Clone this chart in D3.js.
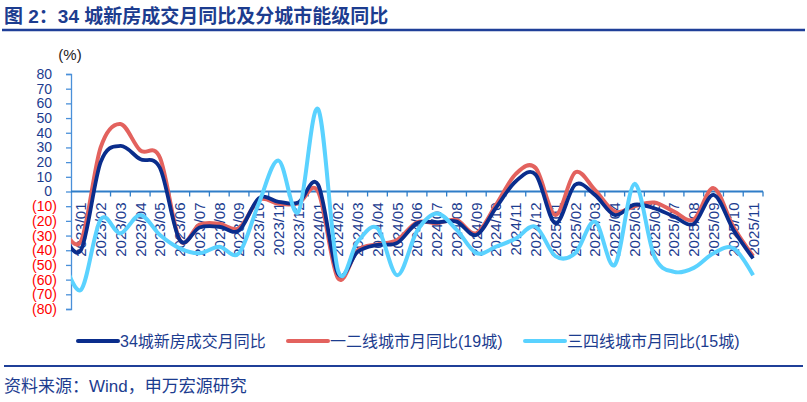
<!DOCTYPE html>
<html>
<head>
<meta charset="utf-8">
<script src="https://cdn.jsdelivr.net/npm/d3@7"></script>
<style>
  body { margin: 0; background: #fff; }
  svg text { font-family: "Liberation Sans", Arial, "Noto Sans CJK SC", sans-serif; }
  .cjk { font-family: "Liberation Sans", "Noto Sans CJK SC", sans-serif; }
</style>
</head>
<body>
<div id="chart"></div>
<script>
// months: the first (2022/12) sits left of the axis and is only seen as the stub entering the plot
var months = ["2022/12",
  "2023/01", "2023/02", "2023/03", "2023/04", "2023/05", "2023/06", "2023/07", "2023/08", "2023/09", "2023/10", "2023/11", "2023/12",
  "2024/01", "2024/02", "2024/03", "2024/04", "2024/05", "2024/06", "2024/07", "2024/08", "2024/09", "2024/10", "2024/11", "2024/12",
  "2025/01", "2025/02", "2025/03", "2025/04", "2025/05", "2025/06", "2025/07", "2025/08", "2025/09", "2025/10", "2025/11"];

var city34 = [-26,
  -40, 20, 31, 22, 16, -33, -24.5, -24, -26.5, -4.6, -7, -7.5,
  4.6, -56, -41, -36.4, -35, -21.6, -21, -20.5, -29.6, -11, 7, 11.5,
  -21.6, 4.6, -2.3, -16, -9, -11.4, -17, -22, -2.3, -26, -45.6];

var tier12 = [-22,
  -34, 30, 46, 28, 23, -33, -22.5, -22, -25, -5.7, -8.4, -8,
  0, -59, -40, -36, -33, -21, -21.6, -19.4, -28.5, -9, 12, 16,
  -16, 13, 1, -13.7, -10, -7.5, -13.7, -19, 2.3, -24, -44];

var tier34 = [-42,
  -67, -19, -28.5, -16, -29.6, -38.7, -42, -37.6, -42, -8, 21, -14,
  56, -53.5, -34, -25, -57, -27, -15, -26, -42, -37.6, -32, -24,
  -44, -42, -20.5, -50, 5.2, -44, -54.7, -52, -42, -38.7, -57];

var seriesNames = ["34城新房成交月同比", "一二线城市月同比(19城)", "三四线城市月同比(15城)"];
var yTicks = d3.range(-80, 81, 10);

var width = 807, height = 402;
var plot = { left: 71, right: 763, top: 74, bottom: 309 };
var catW = (plot.right - plot.left) / (months.length - 1);

var svg = d3.select("#chart").append("svg")
  .attr("width", width)
  .attr("height", height);

svg.append("rect").attr("width", width).attr("height", height).attr("fill", "#fff");

// title + rule
svg.append("text")
  .attr("class", "cjk")
  .attr("x", 4)
  .attr("y", 23)
  .attr("fill", "#1c3c8f")
  .style("font-size", "19px")
  .style("font-weight", "bold")
  .text("图 2：34 城新房成交月同比及分城市能级同比");
svg.append("line")
  .attr("x1", 2).attr("x2", 805)
  .attr("y1", 30).attr("y2", 30)
  .attr("stroke", "#1f3f98").attr("stroke-width", 2.5);

var x = d3.scaleBand()
  .domain(months)
  .range([plot.left - catW, plot.right])
  .paddingInner(0).paddingOuter(0);

var y = d3.scaleLinear()
  .domain([-80, 80])
  .range([plot.bottom, plot.top]);

var cx = function (m) { return x(m) + x.bandwidth() / 2; };

// y axis
var yAxis = svg.append("g")
  .attr("transform", "translate(" + plot.left + ",0)")
  .call(d3.axisLeft(y).tickValues(yTicks).tickSize(5).tickPadding(9)
    .tickFormat(function (d) { return d < 0 ? "(" + (-d) + ")" : d; }));
yAxis.select(".domain").attr("stroke", "#4a90d9").attr("stroke-width", 1.3);
yAxis.selectAll(".tick line").attr("stroke", "#4a90d9").attr("stroke-width", 1.3);
yAxis.selectAll(".tick text")
  .style("font-size", "14px")
  .attr("fill", function (d) { return d < 0 ? "#ff0000" : "#1c3c8f"; })
  .attr("dx", function (d) { return d < 0 ? 0 : -5; });

svg.append("text")
  .attr("x", 70)
  .attr("y", 60)
  .attr("text-anchor", "middle")
  .attr("fill", "#222")
  .style("font-size", "15px")
  .text("(%)");

// x axis on zero line
var shown = months.slice(1);
var xAxis = svg.append("g")
  .attr("transform", "translate(0," + y(0) + ")")
  .call(d3.axisBottom(x).tickValues(shown).tickSize(0).tickSizeOuter(0));
xAxis.select(".domain").remove();
xAxis.append("line")
  .attr("x1", plot.left).attr("x2", plot.right)
  .attr("stroke", "#2f7dc8").attr("stroke-width", 2);
xAxis.selectAll(".bound")
  .data(shown.map(function (m) { return x(m) + x.bandwidth(); }))
  .enter().append("line")
  .attr("class", "bound")
  .attr("x1", function (d) { return d; }).attr("x2", function (d) { return d; })
  .attr("y1", 0).attr("y2", 5)
  .attr("stroke", "#2f7dc8").attr("stroke-width", 1.3);
xAxis.selectAll(".tick text")
  .attr("transform", "rotate(-90)")
  .attr("text-anchor", "end")
  .attr("x", -11)
  .attr("y", 0)
  .attr("dy", "0.36em")
  .attr("fill", "#1c3c8f")
  .style("font-size", "15px");

// lines
svg.append("clipPath").attr("id", "clip")
  .append("rect")
  .attr("x", plot.left).attr("y", 0)
  .attr("width", plot.right - plot.left + 10).attr("height", height);

var line = d3.line()
  .x(function (d, i) { return cx(months[i]); })
  .y(function (d) { return y(d); })
  .curve(d3.curveCatmullRom.alpha(0));

var series = [
  { values: tier12, color: "#e3625e", w: 4 },
  { values: city34, color: "#0a2d8c", w: 3.8 },
  { values: tier34, color: "#5ad2ff", w: 4 }
];

svg.append("g").attr("clip-path", "url(#clip)")
  .selectAll("path")
  .data(series)
  .enter().append("path")
  .attr("d", function (d) { return line(d.values); })
  .attr("fill", "none")
  .attr("stroke", function (d) { return d.color; })
  .attr("stroke-width", function (d) { return d.w; })
  .attr("stroke-linejoin", "round");

// legend
var legendItems = [
  { name: seriesNames[0], color: "#0a2d8c", x: 78 },
  { name: seriesNames[1], color: "#e3625e", x: 288 },
  { name: seriesNames[2], color: "#5ad2ff", x: 525 }
];
var lg = svg.selectAll(".legend")
  .data(legendItems)
  .enter().append("g")
  .attr("class", "legend")
  .attr("transform", function (d) { return "translate(" + d.x + ",341)"; });
lg.append("line")
  .attr("x1", 0).attr("x2", 40)
  .attr("stroke", function (d) { return d.color; })
  .attr("stroke-width", 4)
  .attr("stroke-linecap", "round");
lg.append("text")
  .attr("class", "cjk")
  .attr("x", 42)
  .attr("dy", "0.36em")
  .attr("fill", "#1c3c8f")
  .style("font-size", "16px")
  .text(function (d) { return d.name; });

// bottom rule + source
svg.append("line")
  .attr("x1", 4).attr("x2", 803)
  .attr("y1", 366).attr("y2", 366)
  .attr("stroke", "#1f3f98").attr("stroke-width", 2);
svg.append("text")
  .attr("class", "cjk")
  .attr("x", 4)
  .attr("y", 392)
  .attr("fill", "#1c3c8f")
  .style("font-size", "17px")
  .text("资料来源：Wind，申万宏源研究");
</script>
</body>
</html>
